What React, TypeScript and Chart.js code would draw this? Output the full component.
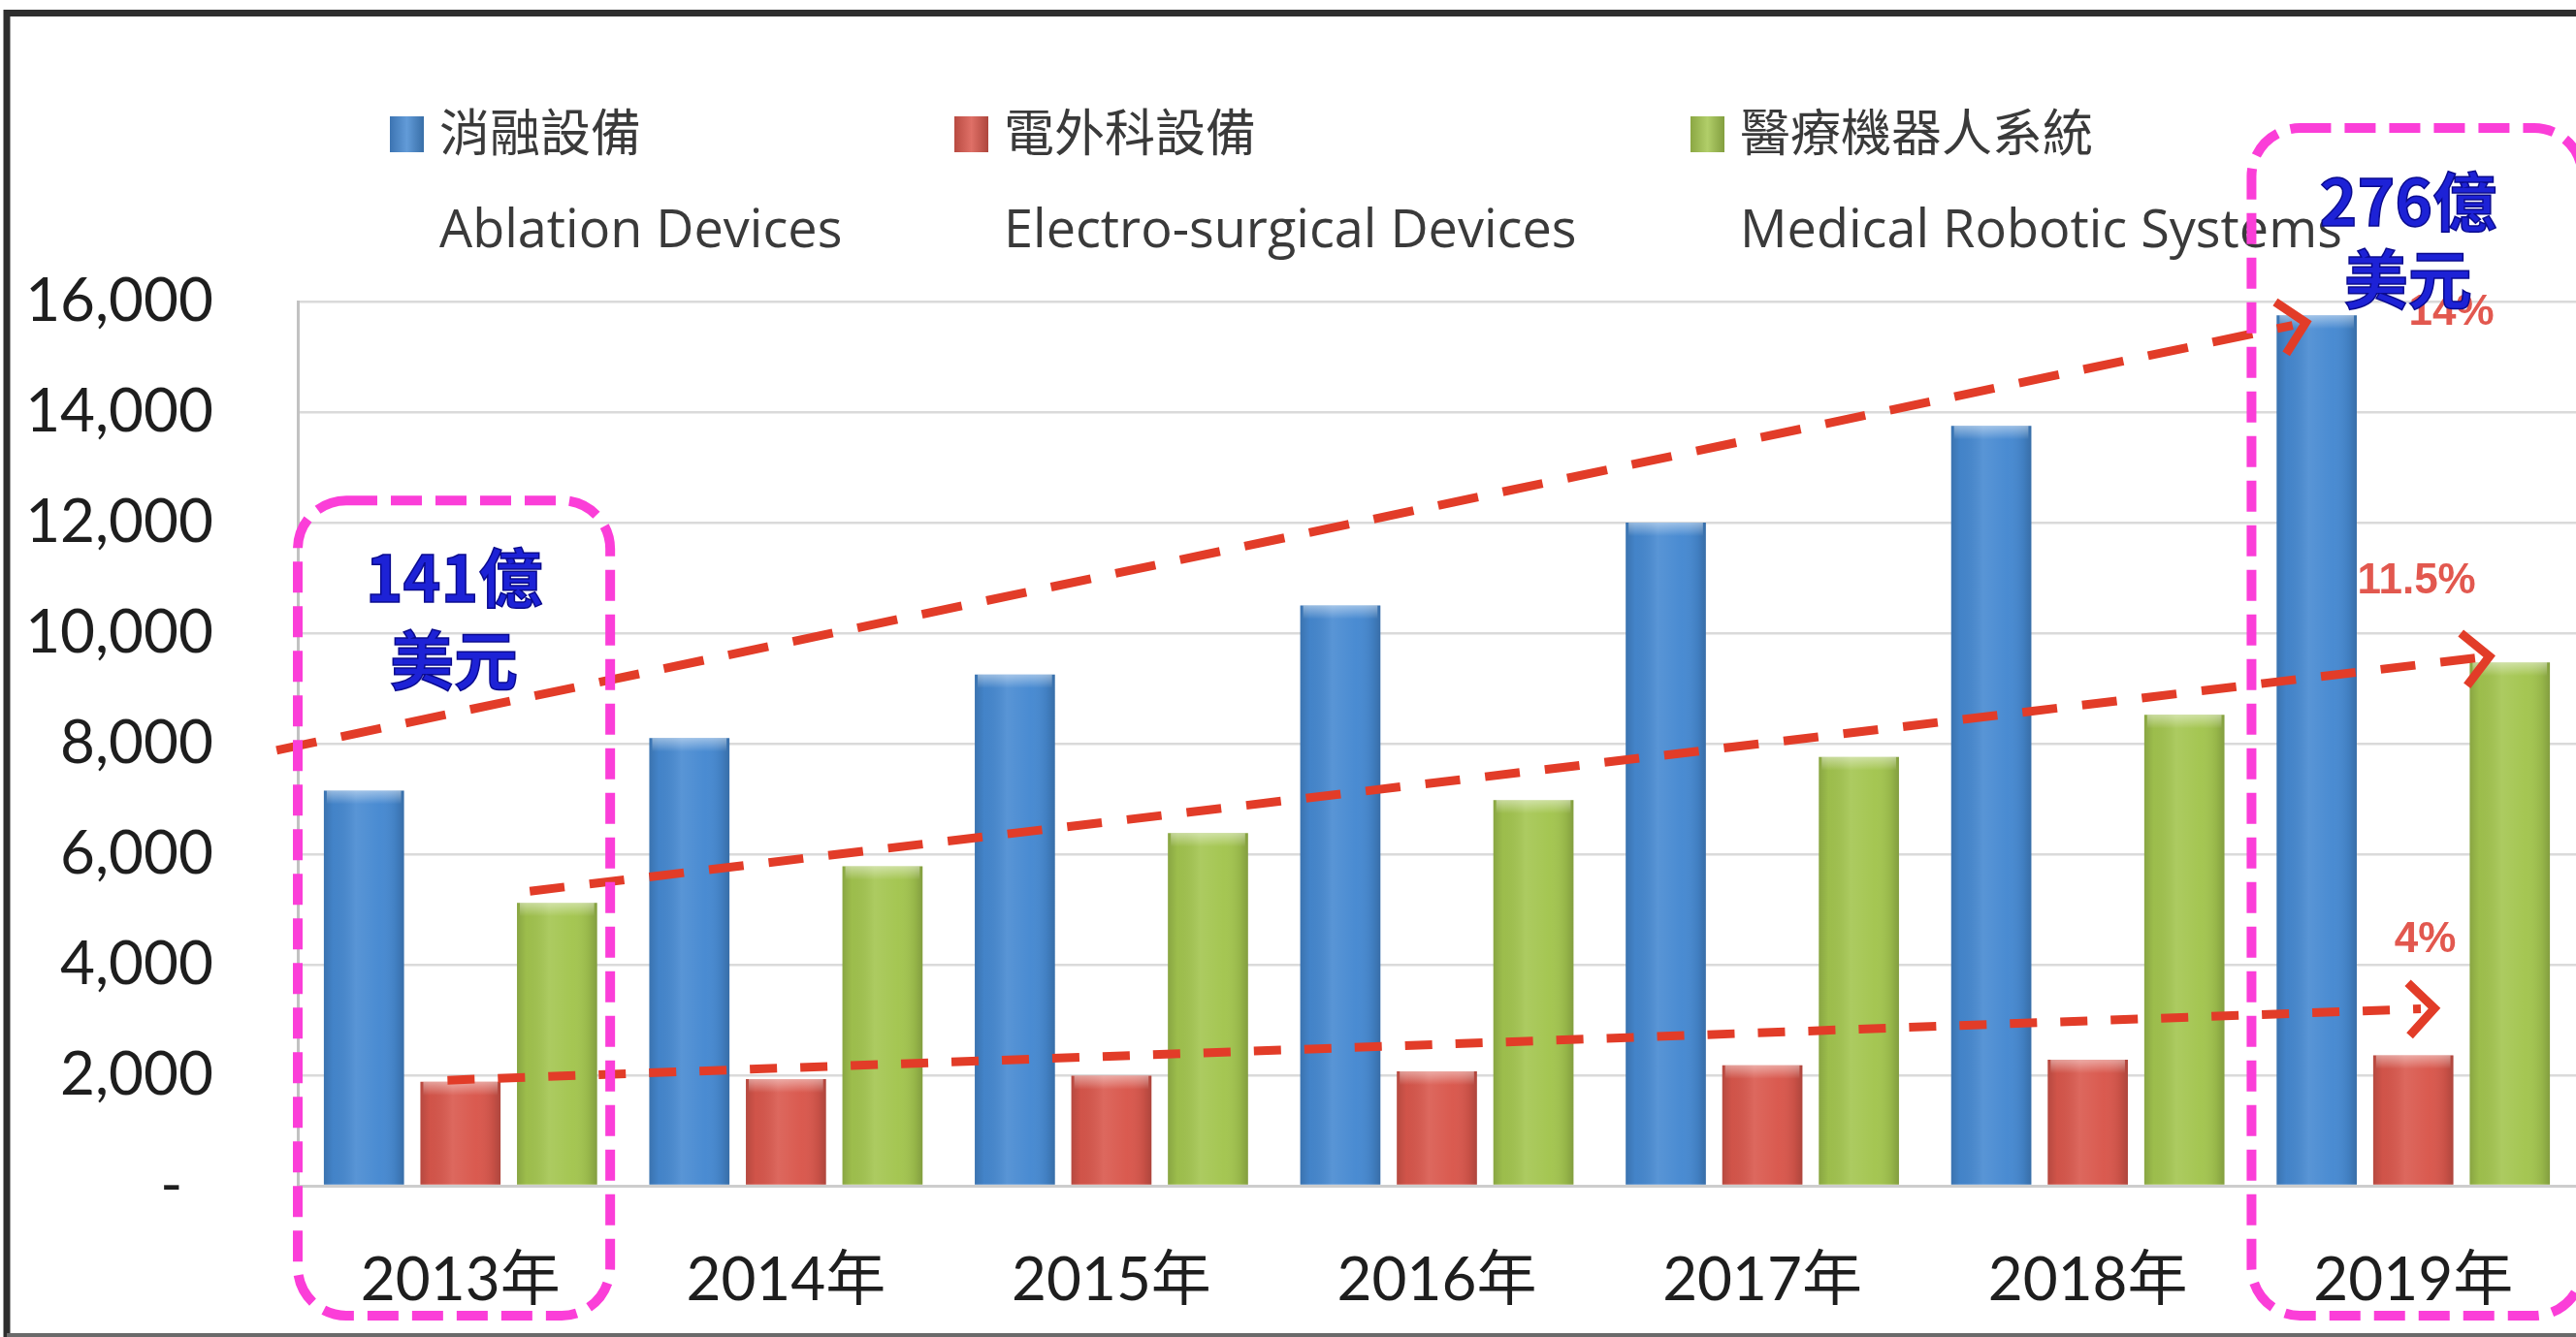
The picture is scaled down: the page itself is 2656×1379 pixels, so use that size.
import React, { useEffect, useRef } from 'react';
import { Chart, registerables } from 'chart.js';

Chart.register(...registerables);

// ---------------- data ----------------
const categories = ['2013年', '2014年', '2015年', '2016年', '2017年', '2018年', '2019年'];
const ablationValues = [7150, 8100, 9250, 10500, 12000, 13750, 15750];
const electroValues = [1880, 1930, 1990, 2070, 2180, 2280, 2360];
const roboticValues = [5120, 5780, 6380, 6980, 7760, 8520, 9470];

const seriesNamesZh = ['消融設備', '電外科設備', '醫療機器人系統'];
const seriesNamesEn = ['Ablation Devices', 'Electro-surgical Devices', 'Medical Robotic Systems'];
const seriesColors = ['#4689d1', '#d9574c', '#a3c54f'];

const yTickValues = [0, 2000, 4000, 6000, 8000, 10000, 12000, 14000, 16000];
const yTickLabels = ['-  ', '2,000', '4,000', '6,000', '8,000', '10,000', '12,000', '14,000', '16,000'];

// trend arrows, anchored in data space: [category index, value]
const growthLabels = ['14%', '11.5%', '4%'];
const trendStarts = [[-0.565, 7880], [0.213, 5330], [-0.04, 1910]];
const trendEnds = [[5.67, 15620], [6.234, 9580], [6.065, 3210]];
const growthLabelAnchors = [[6.117, 15790], [6.01, 10930], [6.037, 4440]];

// highlighted totals
const totalLines = [['141億', '美元'], ['276億', '美元']];
const totalAnchors = [[-0.02, 11000, 9510], [5.984, 17800, 16400]];
const highlightBoxes = [[-0.5, 0.46, 12400, -2350], [5.503, 6.52, 19140, -2350]];

// ---------------- drawing helpers ----------------
function shadeColor(hex: string, amt: number) {
  const n = parseInt(hex.slice(1), 16);
  let r = (n >> 16) & 255, g = (n >> 8) & 255, b = n & 255;
  const f = (c: number) => Math.max(0, Math.min(255, Math.round(amt >= 0 ? c + (255 - c) * amt : c * (1 + amt))));
  return `rgb(${f(r)},${f(g)},${f(b)})`;
}

const decorPlugin = {
  id: 'decor',
  beforeDraw(chart: any) {
    const ctx = chart.ctx;
    ctx.save();
    ctx.fillStyle = '#ffffff';
    ctx.fillRect(0, 0, chart.width, chart.height);
    ctx.restore();
  },
  afterDraw(chart: any) {
    const ctx: CanvasRenderingContext2D = chart.ctx;
    const xs = chart.scales.x;
    const ys = chart.scales.y;
    const x0 = xs.getPixelForValue(0);
    const x1 = xs.getPixelForValue(1);
    const xAt = (i: number) => x0 + (x1 - x0) * i;
    const yAt = (v: number) => ys.getPixelForValue(v);

    // bar shading (cylinder look)
    chart.data.datasets.forEach((ds: any, di: number) => {
      const meta = chart.getDatasetMeta(di);
      meta.data.forEach((el: any) => {
        const { x, y, base, width } = el.getProps(['x', 'y', 'base', 'width'], true);
        const l = x - width / 2;
        const h = base - y;
        ctx.save();
        const g = ctx.createLinearGradient(l, 0, l + width, 0);
        g.addColorStop(0, 'rgba(0,0,0,0.16)');
        g.addColorStop(0.12, 'rgba(0,0,0,0.04)');
        g.addColorStop(0.4, 'rgba(255,255,255,0.10)');
        g.addColorStop(0.7, 'rgba(255,255,255,0.02)');
        g.addColorStop(0.9, 'rgba(0,0,0,0.08)');
        g.addColorStop(1, 'rgba(0,0,0,0.2)');
        ctx.fillStyle = g;
        ctx.fillRect(l, y, width, h);
        const t = ctx.createLinearGradient(0, y, 0, y + 14);
        t.addColorStop(0, 'rgba(255,255,255,0.45)');
        t.addColorStop(1, 'rgba(255,255,255,0)');
        ctx.fillStyle = t;
        ctx.fillRect(l + 3, y, width - 6, 14);
        ctx.restore();
      });
    });

    // legend (two rows)
    const legendX = [453, 1035, 1794];
    ctx.save();
    seriesNamesZh.forEach((name, i) => {
      const sx = legendX[i] - 51;
      const sy = 120;
      const g = ctx.createLinearGradient(sx, 0, sx + 35, 0);
      g.addColorStop(0, shadeColor(seriesColors[i], -0.15));
      g.addColorStop(0.5, shadeColor(seriesColors[i], 0.15));
      g.addColorStop(1, shadeColor(seriesColors[i], -0.2));
      ctx.fillStyle = g;
      ctx.fillRect(sx, sy, 35, 37);
      ctx.fillStyle = '#3a3a3a';
      ctx.textAlign = 'left';
      ctx.textBaseline = 'middle';
      ctx.font = '52px "Noto Sans CJK TC"';
      ctx.fillText(name, legendX[i], 136);
      ctx.font = '54px "Open Sans"';
      ctx.fillText(seriesNamesEn[i], legendX[i], 240);
    });
    ctx.restore();

    // trend arrows
    const dashes = [[42, 26], [36, 26], [28, 24]];
    trendStarts.forEach((s, i) => {
      const e = trendEnds[i];
      const ax = xAt(s[0]), ay = yAt(s[1]);
      const bx = xAt(e[0]), by = yAt(e[1]);
      const ang = Math.atan2(by - ay, bx - ax);
      ctx.save();
      ctx.strokeStyle = '#e23c28';
      ctx.lineWidth = 9;
      ctx.setLineDash(dashes[i]);
      ctx.beginPath();
      ctx.moveTo(ax, ay);
      ctx.lineTo(bx - 14 * Math.cos(ang), by - 14 * Math.sin(ang));
      ctx.stroke();
      ctx.setLineDash([]);
      ctx.lineJoin = 'miter';
      const L = 38, a = 0.8;
      ctx.beginPath();
      ctx.moveTo(bx - L * Math.cos(ang - a), by - L * Math.sin(ang - a));
      ctx.lineTo(bx, by);
      ctx.lineTo(bx - L * Math.cos(ang + a), by - L * Math.sin(ang + a));
      ctx.stroke();
      ctx.restore();
    });

    // highlight boxes
    highlightBoxes.forEach((b) => {
      const l = xAt(b[0]), r = xAt(b[1]);
      const t = yAt(b[2]), btm = yAt(b[3]);
      ctx.save();
      ctx.strokeStyle = '#fb3ed8';
      ctx.lineWidth = 10;
      ctx.setLineDash([32, 14]);
      ctx.beginPath();
      (ctx as any).roundRect(l, t, r - l, btm - t, 50);
      ctx.stroke();
      ctx.restore();
    });

    // growth labels
    ctx.save();
    ctx.fillStyle = '#e2584f';
    ctx.font = 'bold 44px "Liberation Sans"';
    ctx.textAlign = 'center';
    ctx.textBaseline = 'middle';
    growthLabels.forEach((lab, i) => {
      const p = growthLabelAnchors[i];
      ctx.fillText(lab, xAt(p[0]), yAt(p[1]));
    });
    ctx.restore();

    // totals
    ctx.save();
    ctx.textAlign = 'center';
    ctx.textBaseline = 'middle';
    ctx.font = 'bold 66px "Noto Sans CJK TC"';
    totalLines.forEach((lines, i) => {
      const p = totalAnchors[i];
      lines.forEach((txt, k) => {
        const tx = xAt(p[0]);
        const ty = yAt(p[1 + k]);
        ctx.fillStyle = '#1d22d6';
        ctx.fillText(txt, tx, ty);
        ctx.lineWidth = 1.5;
        ctx.strokeStyle = '#0a0a8e';
        ctx.strokeText(txt, tx, ty);
      });
    });
    ctx.restore();

    // outer frame
    ctx.save();
    ctx.strokeStyle = '#2e2e2e';
    ctx.lineWidth = 7;
    ctx.beginPath();
    ctx.moveTo(7, chart.height);
    ctx.lineTo(7, 13.5);
    ctx.lineTo(chart.width, 13.5);
    ctx.stroke();
    ctx.strokeStyle = '#6a6a6a';
    ctx.lineWidth = 4;
    ctx.beginPath();
    ctx.moveTo(7, chart.height - 2);
    ctx.lineTo(chart.width, chart.height - 2);
    ctx.stroke();
    ctx.restore();
  },
};

export default function App() {
  const ref = useRef<HTMLCanvasElement>(null);
  useEffect(() => {
    document.body.style.margin = '0';
    const canvas = ref.current!;
    const chart = new Chart(canvas, {
      type: 'bar',
      data: {
        labels: categories,
        datasets: [
          { label: seriesNamesZh[0], data: ablationValues, backgroundColor: seriesColors[0] },
          { label: seriesNamesZh[1], data: electroValues, backgroundColor: seriesColors[1] },
          { label: seriesNamesZh[2], data: roboticValues, backgroundColor: seriesColors[2] },
        ],
      },
      options: {
        responsive: false,
        animation: false,
        devicePixelRatio: 1,
        layout: { padding: { top: 311, left: 0, right: -11, bottom: 0 } },
        datasets: { bar: { categoryPercentage: 0.89, barPercentage: 0.83 } } as any,
        plugins: { legend: { display: false }, tooltip: { enabled: false } },
        scales: {
          x: {
            grid: { display: false, drawTicks: false },
            border: { display: true, color: '#cdcdcd', width: 3 },
            ticks: {
              color: '#1e1e1e',
              padding: 61,
              font: { family: 'Lato, "Noto Sans CJK TC"', size: 62 },
            },
            afterFit: (s: any) => { s.height = 156; },
          },
          y: {
            min: 0,
            max: 16000,
            afterBuildTicks: (s: any) => { s.ticks = yTickValues.map((v) => ({ value: v })); },
            grid: { color: '#dadada', lineWidth: 2.5, drawTicks: false },
            border: { display: true, color: '#c2c2c2', width: 3 },
            ticks: {
              color: '#1e1e1e',
              padding: 87,
              font: { family: 'Lato', size: 62 },
              callback: (v: any) => {
                const i = yTickValues.indexOf(Number(v));
                return i >= 0 ? yTickLabels[i] : '';
              },
            },
            afterFit: (s: any) => { s.width = 307; },
          },
        },
      },
      plugins: [decorPlugin],
    });
    return () => chart.destroy();
  }, []);
  return (
    <div style={{ width: 2656, height: 1379, overflow: 'hidden', background: '#fff' }}>
      <canvas ref={ref} width={2656} height={1379} style={{ display: 'block', width: 2656, height: 1379 }} />
    </div>
  );
}
